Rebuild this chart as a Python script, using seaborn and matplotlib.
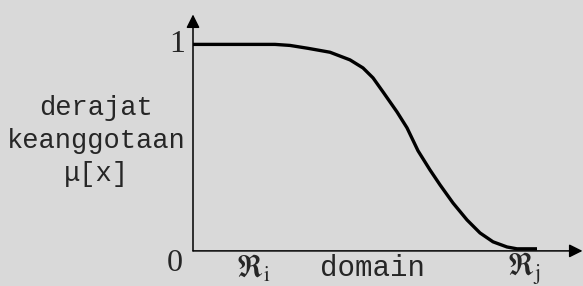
import matplotlib
matplotlib.use("Agg")
import pandas as pd
import seaborn as sns
import matplotlib.pyplot as plt

# membership curve (domain position, degree of membership)
domain_x = [0, 82, 97, 115, 137, 157, 170, 180, 190, 204, 214, 225, 237,
            247, 260, 274, 287, 300, 314, 324, 344]
membership = [1.0, 1.0, 0.995, 0.981, 0.962, 0.925, 0.886, 0.838, 0.770,
              0.673, 0.596, 0.485, 0.392, 0.320, 0.232, 0.150, 0.087,
              0.044, 0.019, 0.010, 0.010]

y_ticks = ["0", "1"]
y_label_lines = ["derajat", "keanggotaan", "\u03bc[x]"]
x_labels = [r"$\Re_\mathrm{i}$", "domain", r"$\Re_\mathrm{j}$"]
x_label_pos = [60, 180, 331]

sns.set_theme(style="white")
plt.rcParams["mathtext.fontset"] = "stix"
bg = "#d9d9d9"

fig = plt.figure(figsize=(5.83, 2.86), dpi=100, facecolor=bg)
ax = fig.add_axes([0, 0, 1, 1], facecolor=bg)
ax.set_xlim(-193, 390)
ax.set_ylim(-0.17, 1.215)
ax.axis("off")

df = pd.DataFrame({"x": domain_x, "mu": membership})
sns.lineplot(data=df, x="x", y="mu", ax=ax, color="black", lw=2.4,
             solid_capstyle="butt", solid_joinstyle="round", sort=False)

# axes with arrow heads
arrow = dict(arrowstyle="-|>", color="black", lw=1.1,
             mutation_scale=20, shrinkA=0, shrinkB=0)
ax.annotate("", xy=(0, 1.145), xytext=(0, 0), arrowprops=arrow)
ax.annotate("", xy=(389.5, 0), xytext=(0, 0), arrowprops=arrow)

# tick values 0 and 1
ax.text(-18, -0.06, y_ticks[0], fontsize=23, family="Liberation Serif",
        ha="center", va="center")
ax.text(-16, 1.0, y_ticks[1], fontsize=23, family="Liberation Serif",
        ha="center", va="center")

# y label
for i, line in enumerate(y_label_lines):
    ax.text(-97, 0.69 - i * 0.16, line, fontsize=19.5,
            family="Liberation Mono", ha="center", va="center")

# x labels
ax.text(x_label_pos[0], -0.085, x_labels[0], fontsize=22, ha="center", va="center")
ax.text(x_label_pos[1], -0.085, x_labels[1], fontsize=21,
        family="Liberation Mono", ha="center", va="center")
ax.text(x_label_pos[2], -0.085, x_labels[2], fontsize=22, ha="center", va="center")

fig.savefig("out.png", dpi=100, facecolor=bg)
